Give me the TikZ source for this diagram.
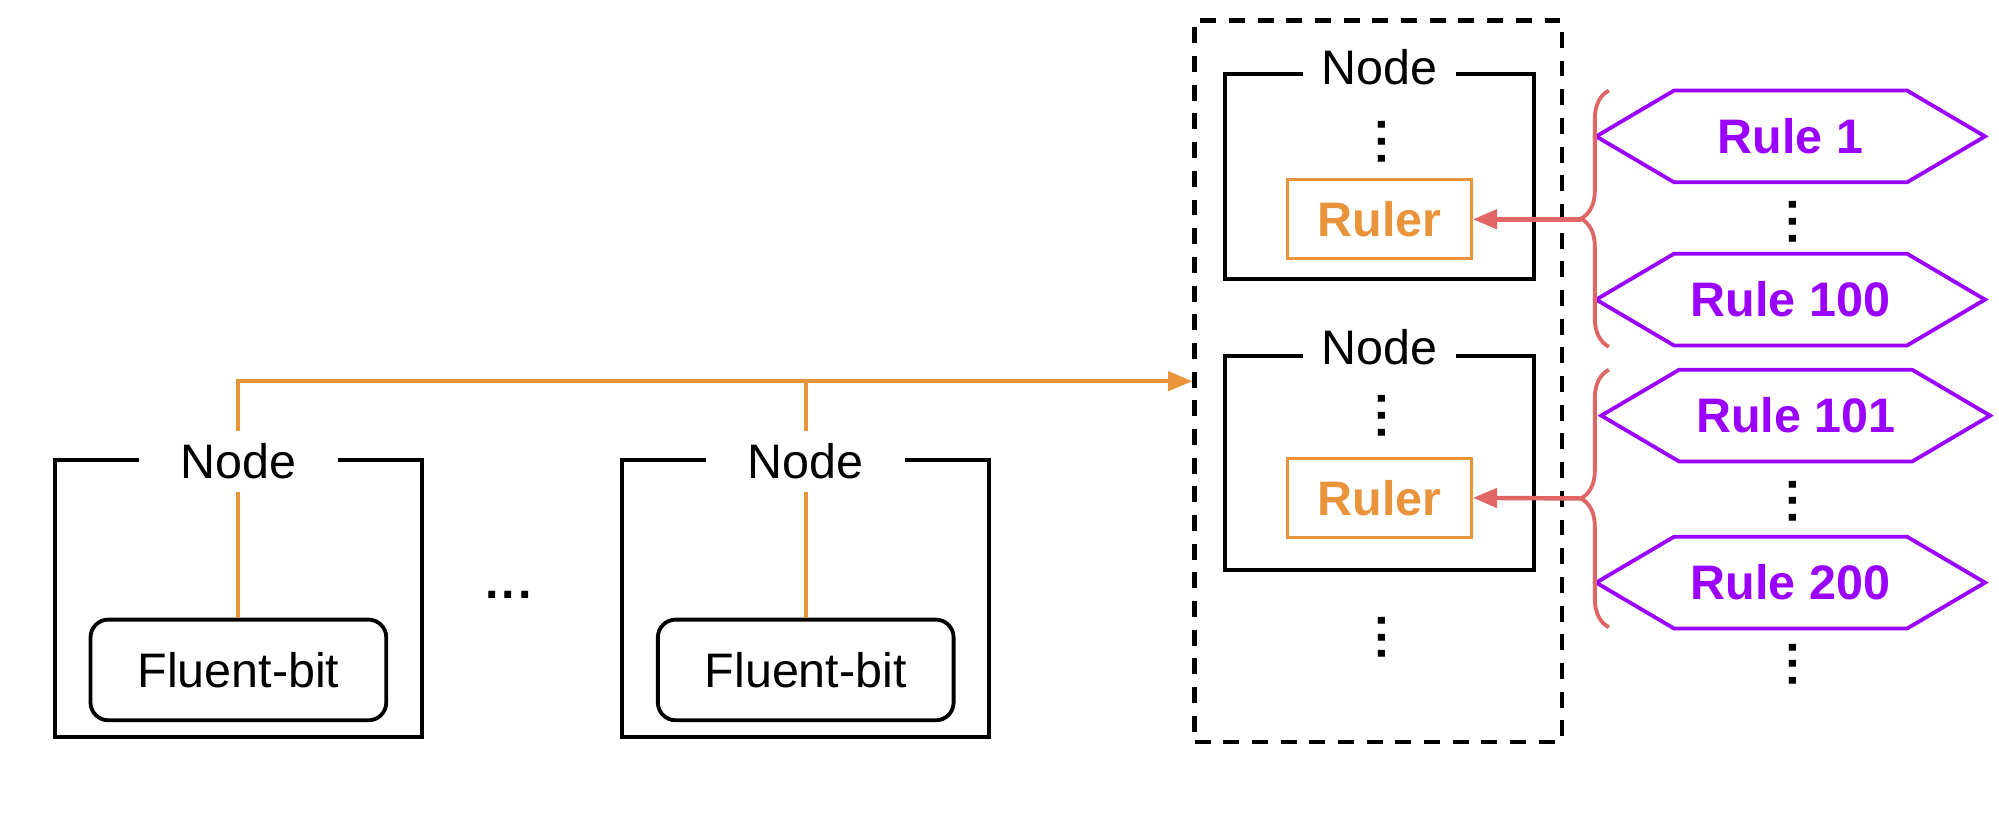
\documentclass[tikz,border=0pt]{standalone}
\usepackage{fontspec}
\setmainfont{Liberation Sans}
\usetikzlibrary{arrows.meta,shapes.symbols,decorations.pathreplacing}
\definecolor{cOrange}{HTML}{E9933A}
\definecolor{cPurple}{HTML}{9A00FF}
\definecolor{cSalmon}{HTML}{E06666}
\newcommand{\mydots}{.\kern2.6pt.\kern2.6pt.}
\begin{document}
\begin{tikzpicture}[x=1pt,y=-1pt,
  bigfont/.style={font=\fontsize{38}{40}\selectfont},
  boldfont/.style={font=\fontsize{38}{40}\selectfont\bfseries},
  hostbox/.style={draw=black, line width=3pt, minimum width=288pt, minimum height=217pt, inner sep=0pt},
  hostlabel/.style={bigfont, fill=white, minimum width=156pt, minimum height=48pt, inner sep=0pt},
  fbox/.style={bigfont, draw=black, line width=3pt, rounded corners=14pt, minimum width=232pt, minimum height=79pt, inner sep=0pt},
  dashbox/.style={draw=black, line width=3.3pt, dash pattern=on 12.5pt off 10pt, minimum width=288pt, minimum height=566pt, inner sep=0pt},
  innerbox/.style={draw=black, line width=3pt, minimum width=242pt, inner sep=0pt},
  innerlabel/.style={bigfont, fill=white, minimum width=120pt, minimum height=40pt, inner sep=0pt},
  rulerbox/.style={boldfont, text=cOrange, draw=cOrange, line width=2.6pt, minimum width=144pt, minimum height=62pt, inner sep=0pt},
  rulehex/.style={boldfont, text=cPurple, draw=cPurple, line width=3pt, signal, signal to=west and east, signal pointer angle=61, minimum width=305pt, minimum height=72pt, inner sep=0pt},
  vdot/.style={boldfont, rotate=90, inner sep=0pt},
  hdot/.style={boldfont, inner sep=0pt},
  oline/.style={draw=cOrange, line width=3pt},
  sbrace/.style={draw=cSalmon, line width=3pt, decorate, decoration={brace, amplitude=22pt}},
  sarrow/.style={draw=cSalmon, line width=3.5pt, -{Triangle[length=19pt,width=15pt]}}
]
\useasboundingbox (0,0) rectangle (1568,643);

% left hosts
\node[hostbox] (h1) at (187,469.5) {};
\node[hostlabel] (l1) at (187,362) {Node};
\node[fbox] (f1) at (187,525.5) {Fluent-bit};
\node[hostbox] (h2) at (632,469.5) {};
\node[hostlabel] (l2) at (632,362) {Node};
\node[fbox] (f2) at (632,525.5) {Fluent-bit};
\node[hdot] (hd) at (399,467) {\mydots};

% cluster
\node[dashbox] (cl) at (1081,299) {};
\node[innerbox, minimum height=161pt] (n1) at (1082,138.5) {};
\node[innerlabel] (nl1) at (1082,53) {Node};
\node[vdot] (d1) at (1084,111) {\mydots};
\node[rulerbox] (ru1) at (1082,172) {Ruler};
\node[innerbox, minimum height=168pt] (n2) at (1082,363) {};
\node[innerlabel] (nl2) at (1082,272) {Node};
\node[vdot] (d2) at (1084,326) {\mydots};
\node[rulerbox] (ru2) at (1082,390.5) {Ruler};
\node[vdot] (d3) at (1084,500) {\mydots};

% rules
\node[rulehex] (r1) at (1404.5,107) {Rule 1};
\node[vdot] (rd1) at (1406,174) {\mydots};
\node[rulehex] (r100) at (1404.5,235) {Rule 100};
\node[rulehex] (r101) at (1408.5,326) {Rule 101};
\node[vdot] (rd2) at (1406,393) {\mydots};
\node[rulehex] (r200) at (1404.5,457) {Rule 200};
\node[vdot] (rd3) at (1406,521) {\mydots};

% braces
\draw[sbrace] (1262,272) -- (1262,71);
\draw[sbrace] (1262,492) -- (1262,290);
\coordinate (t1) at (1240,172);
\coordinate (t2) at (1240,391);
\draw[sarrow] (t1) -- (ru1.east);
\draw[sarrow] (t2) -- (ru2.east);

% orange connectors
\draw[oline, -{Triangle[length=19pt,width=15pt]}] (l1.north) |- (cl.west);
\draw[oline] (l2.north) -- (l2.north |- cl.west);
\draw[oline] (l1.south) -- (f1.north);
\draw[oline] (l2.south) -- (f2.north);
\end{tikzpicture}
\end{document}
